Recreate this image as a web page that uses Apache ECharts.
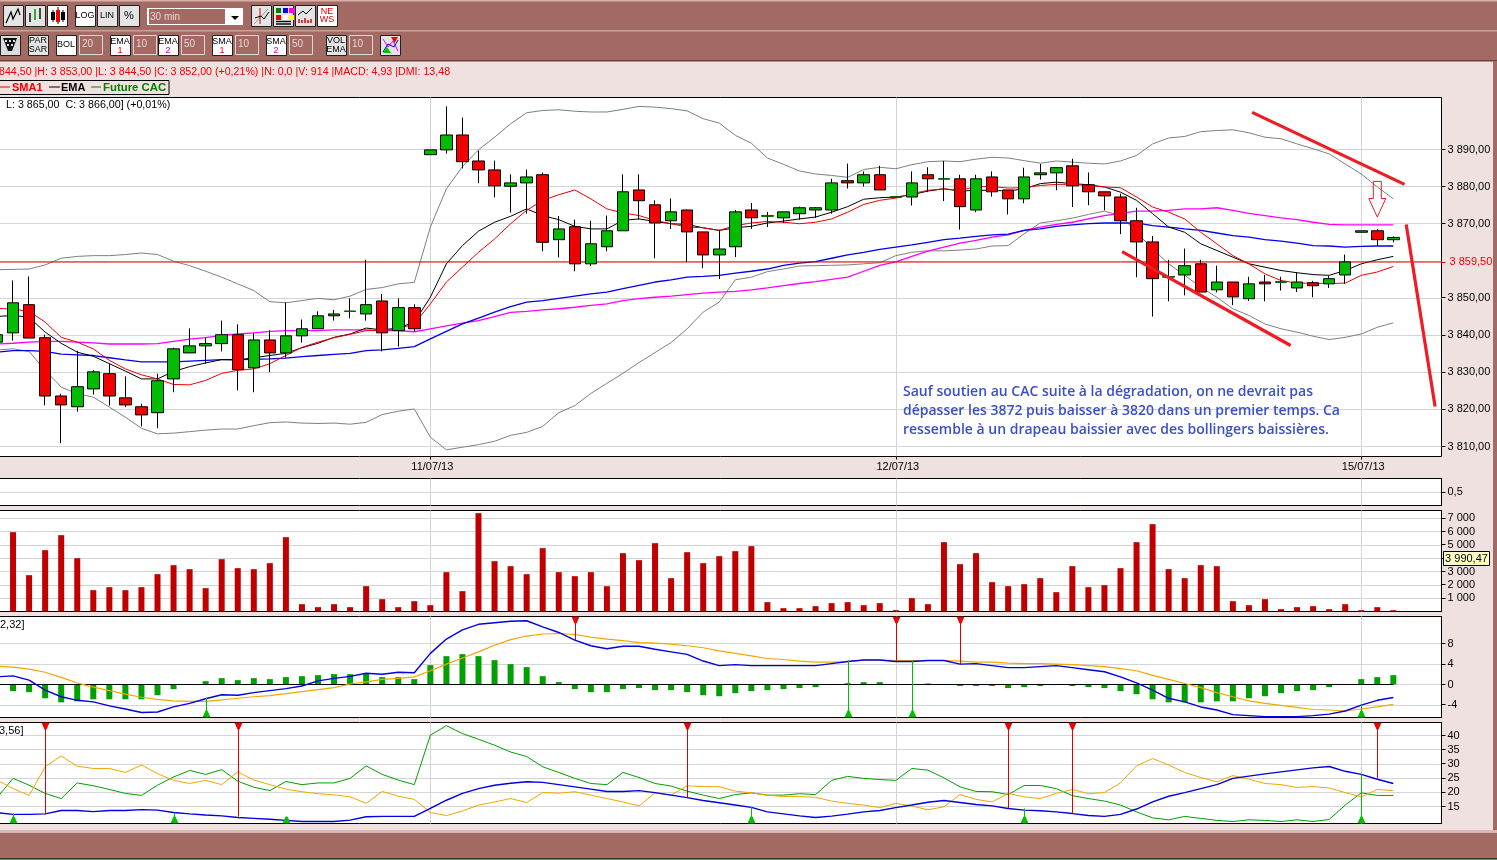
<!DOCTYPE html>
<html><head><meta charset="utf-8">
<style>html,body{margin:0;padding:0;background:#f0e1e1;overflow:hidden}#c{width:1497px;height:860px}</style>
<script src="https://cdn.jsdelivr.net/npm/echarts@6/dist/echarts.min.js"></script>
</head><body><div id="c"></div><script>
const dateTicks = {27:'11/07/13',56:'12/07/13',85:'15/07/13'};
const priceTicks = [3810,3820,3830,3840,3850,3860,3870,3880,3890];
const priceLabels = [3810,3820,3830,3840,3850,3870,3880,3890];
const volTicks = [1000,2000,3000,4000,5000,6000,7000];
const volLabels = [1000,2000,3000,5000,6000,7000];
const macdTicks = [-4,0,4,8];
const dmiTicks = [15,20,25,30,35,40];
const lastPrice = 3859.69;

const open = [3838.1,3840.6,3848.2,3839.3,3823.6,3820.7,3825.5,3829.6,3823.1,3820.7,
3819.1,3828.2,3835.2,3837.1,3837.7,3840.1,3831.2,3838.7,3835.2,3839.8,
3841.7,3845.2,3846.4,3845.7,3849.2,3841.2,3847.4,3888.6,3889.9,3893.9,
3886.9,3884.5,3880.1,3881.0,3883.2,3865.7,3869.2,3859.2,3863.8,3868.1,
3879.1,3875.1,3870.8,3873.7,3867.8,3861.6,3863.8,3873.7,3872.1,3871.6,
3872.7,3873.7,3873.7,3881.6,3881.0,3883.2,3877.2,3877.2,3883.2,3882.1,
3882.1,3873.7,3882.6,3879.1,3876.7,3883.2,3883.7,3885.6,3880.5,3878.6,
3877.2,3870.8,3865.1,3855.7,3856.2,3859.2,3852.2,3854.3,3849.8,3854.3,
3854.3,3852.7,3854.1,3853.8,3856.2,3867.7,3868.1,3865.7];
const close = [3840.1,3848.7,3839.2,3823.6,3821.2,3826.1,3830.1,3823.6,3821.2,3818.5,
3827.7,3836.3,3837.1,3837.7,3840.1,3830.7,3838.7,3835.2,3839.8,3841.7,
3845.2,3845.7,3846.4,3848.2,3840.6,3847.4,3841.7,3889.9,3893.9,3886.7,
3884.5,3880.2,3881.0,3882.6,3865.0,3868.6,3859.2,3864.6,3868.1,3878.6,
3876.2,3870.2,3873.2,3867.8,3861.6,3863.2,3873.2,3871.6,3872.1,3873.2,
3874.3,3874.3,3881.0,3881.0,3883.2,3879.1,3877.2,3881.0,3882.1,3882.1,
3874.6,3882.1,3878.6,3876.7,3882.6,3883.7,3885.1,3880.2,3878.6,3877.5,
3870.8,3865.1,3855.2,3855.7,3858.7,3851.6,3854.3,3850.3,3853.8,3853.8,
3854.3,3854.3,3853.3,3855.2,3859.7,3868.1,3865.7,3866.3];
const low = [3837.0,3838.5,3839.2,3821.1,3810.9,3819.4,3824.0,3821.0,3820.6,3815.4,
3814.9,3824.6,3835.2,3832.3,3835.6,3825.1,3824.6,3830.0,3833.9,3838.0,
3841.7,3843.9,3844.5,3843.9,3835.6,3836.9,3840.9,3888.6,3888.9,3884.9,
3880.9,3877.1,3873.0,3872.7,3862.6,3860.9,3857.2,3858.6,3862.6,3868.1,
3871.1,3860.7,3868.6,3859.7,3858.0,3855.1,3861.0,3868.6,3869.1,3870.2,
3871.1,3871.6,3872.7,3879.5,3880.0,3879.1,3877.0,3874.9,3878.5,3876.1,
3868.4,3873.1,3877.3,3872.5,3875.5,3881.9,3879.0,3874.5,3875.0,3873.6,
3867.2,3855.6,3845.0,3849.1,3850.7,3851.6,3851.5,3848.1,3849.2,3849.1,
3852.0,3851.6,3850.2,3852.7,3853.8,3867.7,3864.0,3865.0];
const high = [3841.0,3854.7,3855.8,3840.1,3824.2,3835.8,3830.6,3832.3,3828.9,3821.5,
3829.6,3836.6,3841.8,3839.3,3843.9,3842.9,3840.6,3841.3,3848.8,3844.2,
3846.4,3846.8,3849.9,3860.3,3851.1,3849.9,3848.3,3889.9,3901.6,3898.6,
3889.7,3887.0,3883.3,3884.6,3883.8,3872.1,3871.1,3870.8,3872.2,3883.3,
3883.3,3876.3,3876.8,3873.8,3867.8,3868.4,3873.7,3875.6,3873.2,3873.2,
3874.6,3874.5,3882.1,3886.2,3884.1,3885.6,3877.4,3884.1,3885.2,3886.9,
3883.2,3883.2,3884.1,3879.1,3885.1,3886.1,3885.1,3887.5,3883.8,3878.6,
3878.1,3874.3,3866.7,3860.3,3863.3,3860.3,3858.7,3854.3,3855.7,3856.2,
3855.7,3856.8,3854.6,3855.9,3861.7,3868.1,3868.6,3866.6];
const bollUpper = [3857.6,3857.7,3857.8,3858.9,3860.7,3861.2,3861.4,3861.4,3861.7,3862.1,
3861.7,3859.9,3858.7,3857.2,3855.6,3853.8,3852.0,3849.0,3848.7,3849.3,
3849.9,3849.5,3850.5,3852.3,3852.8,3853.8,3854.2,3869.1,3879.4,3885.4,
3889.9,3893.3,3896.9,3899.9,3900.5,3900.7,3900.3,3900.1,3900.1,3900.8,
3901.6,3901.4,3901.0,3900.4,3898.3,3897.1,3893.8,3891.7,3887.7,3886.0,
3884.2,3883.4,3883.0,3882.5,3884.6,3885.2,3884.8,3885.9,3886.7,3886.9,
3886.7,3887.4,3887.9,3887.7,3887.0,3886.3,3886.9,3886.6,3886.3,3886.1,
3886.9,3888.4,3891.5,3893.1,3893.5,3894.8,3895.1,3895.3,3894.5,3893.3,
3892.9,3891.5,3890.2,3888.8,3886.1,3883.4,3879.9,3876.7];
const bollLower = [3836.0,3836.3,3835.6,3830.5,3826.0,3824.2,3823.3,3820.6,3817.9,3814.9,
3813.4,3813.6,3814.0,3814.4,3814.7,3814.7,3815.6,3816.4,3816.6,3816.3,
3816.2,3816.3,3816.0,3816.5,3818.6,3819.5,3820.1,3812.5,3809.1,3809.8,
3810.5,3811.4,3813.0,3813.8,3815.4,3819.1,3821.0,3824.3,3827.0,3829.7,
3832.6,3835.3,3838.0,3841.7,3846.2,3848.9,3854.9,3855.6,3857.1,3857.8,
3858.6,3858.7,3858.8,3858.9,3859.2,3859.5,3861.4,3862.3,3862.7,3862.7,
3862.9,3863.2,3864.0,3864.1,3867.3,3870.2,3870.8,3871.5,3872.5,3873.4,
3872.2,3867.7,3863.2,3859.2,3856.1,3852.9,3850.2,3847.1,3845.3,3843.0,
3841.7,3840.8,3839.7,3838.8,3839.4,3840.3,3842.1,3843.3];
const sma1 = [3847.2,3847.0,3846.4,3843.5,3839.4,3838.1,3836.3,3833.2,3830.9,3829.3,
3828.2,3826.7,3826.6,3827.8,3829.7,3830.5,3830.9,3832.3,3834.5,3836.7,
3838.1,3839.3,3840.2,3841.2,3841.2,3841.7,3843.0,3848.4,3854.3,3858.3,
3862.3,3865.9,3870.0,3873.6,3876.3,3877.8,3879.1,3876.7,3874.0,3872.9,
3872.2,3870.9,3870.0,3869.1,3868.9,3868.2,3869.5,3870.2,3870.6,3870.4,
3870.0,3870.4,3871.3,3873.1,3875.2,3876.3,3876.9,3878.1,3879.0,3879.4,
3879.0,3880.0,3880.0,3879.6,3879.7,3880.3,3880.6,3880.6,3880.3,3879.9,
3879.7,3877.2,3874.5,3873.1,3871.3,3867.7,3864.6,3861.4,3859.2,3856.5,
3854.7,3854.0,3854.0,3853.9,3854.0,3856.1,3857.0,3858.5];
const ema1 = [3845.0,3845.3,3844.8,3840.8,3837.8,3835.4,3834.3,3832.3,3830.3,3828.2,
3828.2,3830.2,3831.5,3832.5,3833.4,3833.3,3833.9,3834.5,3835.1,3836.6,
3837.8,3839.4,3840.3,3841.9,3841.4,3841.9,3843.5,3850.2,3859.2,3864.1,
3868.0,3870.4,3872.0,3874.0,3872.2,3871.1,3869.3,3868.6,3868.6,3870.9,
3871.3,3870.6,3870.0,3869.8,3868.9,3868.2,3868.9,3869.3,3870.2,3870.7,
3871.3,3871.8,3873.1,3874.6,3876.6,3877.0,3877.2,3877.8,3878.8,3879.4,
3878.8,3879.0,3879.0,3878.8,3879.4,3880.8,3881.2,3880.8,3880.5,3879.9,
3878.5,3876.3,3872.7,3869.1,3867.7,3864.6,3862.8,3861.0,3859.2,3858.3,
3857.4,3856.8,3856.3,3856.1,3857.4,3859.2,3860.3,3861.2];
const ema2 = [3835.4,3835.8,3835.8,3835.6,3834.9,3834.7,3834.5,3833.9,3833.3,3832.8,
3832.8,3832.8,3833.0,3833.2,3833.4,3833.4,3833.5,3833.6,3833.8,3834.2,
3834.5,3834.8,3835.1,3835.8,3836.0,3836.4,3836.9,3839.0,3841.0,3843.0,
3844.6,3846.2,3847.7,3848.9,3849.3,3849.9,3850.5,3851.1,3851.6,3852.5,
3853.4,3854.3,3854.9,3855.6,3855.8,3856.1,3856.7,3857.2,3857.8,3858.8,
3859.4,3859.8,3860.7,3861.6,3862.3,3863.1,3863.7,3864.3,3865.0,3865.7,
3866.1,3866.6,3867.0,3867.2,3868.2,3868.6,3869.3,3869.7,3870.0,3870.2,
3870.2,3870.2,3869.5,3869.1,3868.6,3868.2,3867.5,3866.8,3866.4,3865.7,
3865.3,3864.8,3864.1,3864.0,3863.7,3863.9,3864.0,3864.0];
const sma2 = [3837.6,3837.8,3838.1,3838.3,3838.3,3838.1,3837.9,3837.6,3837.6,3837.6,
3837.7,3838.3,3838.9,3839.3,3839.9,3840.3,3840.6,3841.0,3841.2,3841.2,
3841.2,3841.4,3841.4,3841.4,3841.2,3841.2,3840.9,3841.7,3842.5,3843.2,
3843.9,3845.0,3846.1,3846.4,3846.8,3847.1,3847.5,3848.0,3848.4,3849.3,
3849.8,3850.2,3850.5,3850.9,3851.3,3851.6,3851.8,3852.2,3852.7,3853.3,
3853.9,3854.4,3855.0,3855.6,3857.2,3858.8,3859.7,3861.2,3862.6,3863.7,
3864.8,3865.5,3866.4,3867.0,3868.2,3869.1,3869.8,3870.4,3871.3,3872.2,
3872.8,3873.4,3873.4,3873.6,3874.0,3874.0,3874.3,3873.6,3872.8,3872.2,
3871.6,3871.1,3870.4,3869.8,3869.7,3869.7,3869.7,3869.7];
const volume = [925,5950,2725,4600,5725,4000,1600,1825,1600,1825,
2800,3475,3175,1750,3925,3250,3175,3625,5575,550,
325,550,325,1900,925,325,775,475,2950,1525,
7375,3775,3400,2800,4750,2950,2650,2950,1900,4375,
3850,5125,2500,4450,3625,4150,4525,4900,700,250,
250,400,625,700,475,625,100,1000,550,5200,
3550,4375,2200,1900,2050,2500,1450,3400,1825,1975,
3250,5200,6550,3175,2500,3475,3400,775,475,925,
175,325,400,175,550,100,325,100];
const macdHist = [-1.9,-1.3,-1.5,-2.7,-3.5,-3.3,-2.9,-2.9,-2.9,-2.9,
-2.1,-0.9,0,0.65,1.24,0.85,1.24,1.05,1.44,1.63,
1.83,2.03,2.03,2.22,1.44,1.44,1.05,3.79,5.56,5.95,
5.56,4.77,3.99,3.4,1.63,0.46,-0.9,-1.5,-1.5,-0.9,
-0.7,-1.1,-1.1,-1.5,-2.1,-2.3,-1.7,-1.3,-1.1,-0.9,
-0.7,-0.5,0,0.26,0.46,0.46,0,0,0.2,0,
-0.3,-0.3,-0.3,-0.7,-0.5,-0.3,0,-0.3,-0.5,-0.7,
-1.3,-1.9,-2.9,-3.5,-3.5,-3.5,-3.3,-3.3,-2.7,-2.3,
-1.7,-1.3,-1.1,-0.5,0,1.05,1.44,1.83];
const macdLine = [1.5,1.7,0.85,-1.1,-2.4,-3.1,-3.4,-4.2,-4.8,-5.5,
-5.4,-4.4,-3.7,-2.8,-2.0,-2.1,-1.6,-1.2,-0.8,-0.3,
0.7,1.2,1.6,2.2,2.0,2.4,2.3,6.1,8.9,10.7,
11.8,12.1,12.4,12.5,11.3,10.2,8.7,7.6,7.0,7.5,
7.5,6.9,6.4,5.9,4.6,3.7,3.9,3.7,3.7,3.7,
3.7,3.7,4.1,4.5,4.8,4.8,4.5,4.5,4.7,4.7,
4.0,4.1,3.7,3.3,3.3,3.5,3.7,3.3,2.9,2.5,
1.5,0.3,-1.1,-2.7,-3.4,-4.4,-5.0,-5.9,-6.1,-6.3,
-6.3,-6.3,-6.1,-5.8,-5.2,-4.05,-3.1,-2.55];
const macdSignal = [3.6,3.4,3.0,2.4,1.4,0.3,-0.5,-1.2,-1.9,-2.5,
-2.9,-3.2,-3.3,-3.3,-3.0,-2.7,-2.4,-2.2,-1.8,-1.4,
-1.0,-0.6,0.1,0.5,1.0,1.2,1.5,2.7,4.0,5.2,
6.4,7.7,8.8,9.5,9.9,10.0,9.8,9.3,8.9,8.6,
8.2,8.1,7.9,7.6,7.2,6.6,6.1,5.6,5.1,4.9,
4.6,4.4,4.4,4.5,4.8,4.8,4.7,4.7,4.7,4.7,
4.6,4.4,4.4,4.2,4.1,4.1,4.0,3.9,3.7,3.5,
3.1,2.7,1.8,1.0,0.2,-0.6,-1.6,-2.4,-3.2,-3.7,
-4.1,-4.5,-4.9,-5.0,-5.2,-4.8,-4.4,-3.9];
const dmiPlus = [18.1,24.9,22.5,19.6,17.8,23.3,22.3,21.0,19.6,18.9,
22.5,25.4,27.7,26.3,28.0,23.9,21.8,20.6,23.8,22.7,
23.3,23.3,24.9,29.3,26.3,24.3,22.7,40.1,43.5,40.7,
38.7,36.6,34.2,32.6,29.0,27.0,24.9,23.1,22.7,27.0,
25.2,23.1,22.2,20.4,19.0,17.8,19.2,19.8,19.0,19.0,
19.5,19.2,24.2,25.6,24.9,24.5,24.2,28.4,27.8,25.1,
21.9,20.3,20.2,19.2,22.4,22.4,21.3,18.8,17.8,16.9,
15.5,13.1,11.0,10.3,11.5,10.8,10.1,9.7,10.3,10.1,
9.7,10.3,9.7,10.4,15.5,19.8,18.9,18.9];
const dmiMinus = [24.3,21.3,18.9,29.0,32.8,29.2,28.4,28.4,27.0,29.6,
26.6,24.2,23.1,24.2,22.7,27.2,24.3,22.7,21.1,20.2,
19.5,19.1,18.4,16.1,20.3,18.6,17.5,12.9,11.8,13.4,
15.5,16.6,17.8,16.4,19.9,19.7,20.2,19.0,17.8,16.6,
15.2,19.8,19.0,22.3,22.0,22.0,20.4,19.8,19.0,18.5,
18.5,18.2,16.9,16.1,15.5,14.6,16.1,15.2,13.8,14.9,
19.2,17.5,16.6,19.6,18.4,17.8,19.6,21.0,19.5,19.9,
23.3,29.3,31.9,29.6,27.0,25.2,23.7,25.9,24.6,23.1,
22.7,21.7,22.0,21.5,19.9,18.4,21.0,20.6];
const adx = [12.8,12.2,12.2,12.4,13.6,13.6,13.2,13.6,13.6,13.9,
13.7,12.9,12.4,12.0,11.7,11.1,10.8,10.5,10.1,9.7,
9.7,9.7,10.2,11.4,11.5,11.5,11.5,14.3,17.2,19.6,
21.3,22.5,23.2,23.7,23.5,22.7,21.9,21.1,20.3,20.3,
20.6,19.9,19.0,18.1,17.1,16.3,15.5,14.7,13.1,12.4,
11.7,11.1,11.6,12.3,13.1,13.6,14.6,15.5,16.5,17.1,
16.4,15.7,15.2,14.3,13.7,13.5,13.1,12.5,11.8,11.5,
12.2,14.1,16.6,18.6,19.9,21.3,22.7,24.9,25.7,26.5,
27.2,27.9,28.6,29.1,27.4,26.3,24.6,23.1];
// signals: [bar index, value the arrow reaches]
const macdSell = [[36,8.7],[56,4.7],[60,4.0]];
const macdBuy = [[13,-2.6],[53,4.7],[57,4.7],[85,-3.9]];
const dmiSell = [[3,12.5],[15,11.4],[43,18.1],[63,14.3],[67,12.5],[86,24.9]];
const dmiBuy = [[1,12.5],[11,12.9],[18,10.1],[47,14.9],[64,14.3],[85,26.3]];
// hand-drawn annotations: [bar, price, bar, price]
const trendLines = [[78.2,3900.0,87.7,3880.6],[70.1,3862.5,80.6,3837.2],[87.8,3869.8,89.6,3820.8]];
const hollowArrow = [86,3881.4,3876.8,3871.8];
const note = ['Sauf soutien au CAC suite à la dégradation, on ne devrait pas',
 'dépasser les 3872 puis baisser à 3820 dans un premier temps. Ca',
 'ressemble à un drapeau baissier avec des bollingers baissières.'];

const BAR_COUNT = 91;
const categories = [];
for (let i = 0; i < BAR_COUNT; i++) categories.push(dateTicks[i] || ('b' + i));
const isDate = i => dateTicks[i] !== undefined;
const FONT = '"Liberation Sans", Arial, sans-serif';
const GRID = '#d4d4d4';
const panels = [[97,359],[478,27],[510,101],[616,101],[722,101]];

const grids = panels.map(p => ({left:-3,width:1444.5,top:p[0]+.5,height:p[1],show:true,backgroundColor:'#fff',
  borderColor:'#000',borderWidth:1,containLabel:false,outerBoundsMode:'none'}));
const xAxes = panels.map((p,i) => ({type:'category',gridIndex:i,data:categories,boundaryGap:false,
  axisLine:{show:false},
  axisTick:{show:i===0,interval:isDate,length:3,lineStyle:{color:'#000'}},
  axisLabel:{show:i===0,interval:isDate,color:'#000',fontFamily:FONT,fontSize:11,margin:5,padding:[0,0,0,4],hideOverlap:false},
  splitLine:{show:true,interval:isDate,lineStyle:{color:GRID,width:1}}}));
xAxes.push({type:'value',gridIndex:0,min:0,max:BAR_COUNT-1,show:false,splitLine:{show:false}});

const yBase = (gridIndex,min,max,ticks,labels,fmt) => ({type:'value',gridIndex,min,max,position:'right',
  axisLine:{show:true,lineStyle:{color:'#000'}},
  axisTick:{show:false,customValues:ticks},
  axisLabel:{show:true,customValues:labels,formatter:fmt,color:'#000',fontFamily:FONT,fontSize:11,margin:6,padding:[3,0,0,0]},
  splitLine:{show:true,lineStyle:{color:GRID,width:1}}});
const thousands = v => String(v).replace(/(\d)(\d{3})$/,'$1 $2');
const yAxes = [
  yBase(0,3807.3,3904.0,priceTicks,priceLabels,v=>thousands(v)+',00'),
  yBase(1,0,1,[0.5],[0.5],()=>'0,5'),
  yBase(2,0,7575,volTicks,volLabels,thousands),
  yBase(3,-6.47,13.33,macdTicks,macdTicks,v=>String(v)),
  yBase(4,9.0,44.6,dmiTicks,dmiTicks,v=>String(v))
];

function line(name,data,color,width,g,z){
  return {name,type:'line',data,xAxisIndex:g,yAxisIndex:g,showSymbol:false,symbol:'none',silent:true,
    lineStyle:{color,width},z:z||2,animation:false};
}
function signalSeries(data,g,up,color,tip){
  return {type:'custom',xAxisIndex:g,yAxisIndex:g,data,silent:true,z:4,clip:true,animation:false,
    encode:{x:0,y:1},
    renderItem(params,api){
      const p = api.coord([api.value(0),api.value(1)]);
      const c = params.coordSys, edge = up ? c.y+c.height : c.y, x = Math.round(p[0])+0.5;
      const dir = up ? -1 : 1;
      return {type:'group',children:[
        {type:'line',shape:{x1:x,y1:edge,x2:x,y2:p[1]},style:{stroke:color,lineWidth:1}},
        {type:'polygon',shape:{points:[[x-4,edge],[x+4,edge],[x+1,edge+dir*7],[x-1,edge+dir*7]]},style:{fill:tip}}
      ]};
    }};
}
// short marks to the right of a panel, at the same values as its labels
function tickSeries(values,g,color){
  return {type:'custom',xAxisIndex:g,yAxisIndex:g,data:values.map(v=>[0,v]),silent:true,z:4,clip:false,animation:false,
    encode:{x:0,y:1},
    renderItem(params,api){
      const p = api.coord([0,api.value(1)]), c = params.coordSys, x = c.x+c.width;
      const y = Math.round(p[1]-.5)+.5;
      return {type:'line',shape:{x1:x,y1:y,x2:x+4,y2:y},style:{stroke:color,lineWidth:1}};
    }};
}

const series = [
  line('BollU',bollUpper,'#808080',1,0),
  line('BollL',bollLower,'#808080',1,0),
  line('SMA2',sma2,'#ff00ff',1.3,0),
  line('EMA2',ema2,'#0000e6',1.3,0),
  line('EMA1',ema1,'#000000',1,0),
  line('SMA1',sma1,'#f00000',1,0),
  {name:'Future CAC',type:'candlestick',xAxisIndex:0,yAxisIndex:0,z:3,silent:true,barWidth:12,animation:false,
   data:open.map((o,i)=>[o,close[i],low[i],high[i]]),
   itemStyle:{color:'#00bb00',color0:'#f00000',borderColor:'#000',borderColor0:'#000',borderColorDoji:'#000',borderWidth:1}},
  Object.assign(line('Last',categories.map(()=>lastPrice),'#e00000',1,0,3),{
   endLabel:{show:true,distance:8,formatter:()=>'3 859,50',color:'#f00000',fontFamily:FONT,fontSize:11}}),
  {name:'Doji',type:'candlestick',xAxisIndex:0,yAxisIndex:0,z:3,silent:true,barWidth:12,animation:false,
   data:open.map((o,i)=>o===close[i]?[o,o,o,o]:['-','-','-','-']),
   itemStyle:{color:'#007000',color0:'#007000',borderColor:'#007000',borderColor0:'#007000',borderColorDoji:'#007000',borderWidth:1}},
  {type:'custom',xAxisIndex:5,yAxisIndex:0,data:trendLines,silent:true,z:6,animation:false,clip:false,
   encode:{x:0,y:1},
   renderItem(params,api){
     const a=api.coord([api.value(0),api.value(1)]),b=api.coord([api.value(2),api.value(3)]);
     return {type:'line',shape:{x1:a[0],y1:a[1],x2:b[0],y2:b[1]},style:{stroke:'#ee1c25',lineWidth:3.2}};
   }},
  {type:'custom',xAxisIndex:5,yAxisIndex:0,data:[hollowArrow],silent:true,z:6,animation:false,clip:false,
   encode:{x:0,y:1},
   renderItem(params,api){
     const t=api.coord([api.value(0),api.value(1)]),m=api.coord([api.value(0),api.value(2)]),e=api.coord([api.value(0),api.value(3)]);
     const x=t[0];
     return {type:'polygon',shape:{points:[[x-4,t[1]],[x+4,t[1]],[x+4,m[1]],[x+8.5,m[1]],[x,e[1]],[x-8.5,m[1]],[x-4,m[1]]]},
       style:{fill:'rgba(255,255,255,0)',stroke:'#ee1c25',lineWidth:1}};
   }},
  {name:'Volume',type:'bar',xAxisIndex:2,yAxisIndex:2,data:volume,barWidth:6,silent:true,itemStyle:{color:'#c00000'},z:2,animation:false},
  {name:'Hist',type:'bar',xAxisIndex:3,yAxisIndex:3,data:macdHist,barWidth:6,silent:true,itemStyle:{color:'#00a000'},z:2,animation:false},
  line('Zero',macdHist.map(()=>0),'#000',1.2,3,3),
  line('Signal',macdSignal,'#f0a800',1.2,3,3),
  line('MACD',macdLine,'#0000e0',1.4,3,3),
  signalSeries(macdSell,3,false,'#e00000','#f00000'),
  signalSeries(macdBuy,3,true,'#00c000','#00c000'),
  line('DMI+',dmiPlus,'#00a000',1,4,3),
  line('DMI-',dmiMinus,'#f0a800',1,4,3),
  line('ADX',adx,'#0000e0',1.4,4,3),
  signalSeries(dmiSell,4,false,'#e00000','#f00000'),
  signalSeries(dmiBuy,4,true,'#00c000','#00c000'),
  tickSeries(priceLabels,0,'#000'),
  tickSeries([lastPrice],0,'#e00000'),
  tickSeries([0.5],1,'#000'),
  tickSeries(volTicks,2,'#000'),
  tickSeries(macdTicks,3,'#000'),
  tickSeries(dmiTicks,4,'#000')
];

// ---- window chrome
const BROWN = '#a26a63', PINK = '#f0e1e1';
const g = [];
const rect = (x,y,w,h,fill,stroke,z) => g.push({type:'rect',silent:true,z:z||0,shape:{x,y,width:w,height:h},style:{fill,stroke:stroke||null,lineWidth:stroke?1:0}});
const txt = (x,y,text,color,size,opt) => g.push({type:'text',silent:true,z:(opt&&opt.z)||10,x,y,style:Object.assign({text,fill:color,fontFamily:FONT,fontSize:size,verticalAlign:'middle',align:'left'},opt||{})});
const poly = (pts,color,w,z) => g.push({type:'polyline',silent:true,z:z||10,shape:{points:pts},style:{stroke:color,lineWidth:w||1,fill:null}});
rect(0,0,1497,61,BROWN);
rect(0,0,1497,1.5,'#d9b0aa');
rect(0,30,1497,1.5,'#c9a09a');
rect(0,60,1497,1.5,'#6e3f3a');
rect(1493,61,4,772,BROWN);
rect(0,830,1497,3,'#d9b8b4');
rect(0,833,1497,25,BROWN);
rect(0,858,1497,1,'#333');
rect(0,859,1497,1,'#a26a63');
const btn = (x,y,w,h,fill) => rect(x+.5,y+.5,w,h,fill,'#222',5);
const label = (cx,cy,t,c,s) => txt(cx,cy,t,c||'#000',s||9,{align:'center'});
// row 1
[[3,'#e4e4e4'],[25,'#e4e4e4'],[47,'#fff'],[75,'#fff'],[97,'#e4e4e4'],[119,'#e4e4e4'],[251,'#e4e4e4'],[273,'#e4e4e4'],[295,'#e4e4e4'],[317,'#fff']].forEach(b=>btn(b[0],5,20,21,b[1]));
poly([[6,23],[11,12],[13,19],[18,9],[20,15]],'#000',1.2);
poly([[30,22],[30,13]],'#000',1.4); poly([[35,20],[35,9]],'#00a000',1.6); poly([[40,19],[40,8]],'#000',1.4);
poly([[53,10],[53,22]],'#000',1); rect(51,12,4,8,'#000',null,11); poly([[58,7],[58,24]],'#000',1); rect(56,10,4,12,'#f00000',null,11); poly([[63,10],[63,22]],'#000',1); rect(61,12,4,8,'#000',null,11);
label(85,16,'LOG'); label(107,16,'LIN'); label(129,16,'%','#000',11);
rect(147,8,96,17,'#fff',null,5); rect(149,9,76,15,BROWN,null,6);
txt(150,17,'30 min','#e6d6d4',10);
g.push({type:'polygon',silent:true,z:10,shape:{points:[[231,16],[239,16],[235,20]]},style:{fill:'#000'}});
poly([[254,24],[268,9]],'#999',1); poly([[260,8],[260,24]],'#e00000',1); poly([[255,18],[261,16],[264,19],[269,12]],'#000',1);
[[276,'#008000'],[283,'#0000e0'],[289,'#ff00ff']].forEach(c=>rect(c[0],8,5,5,c[1],null,11));
rect(276,15,5,5,'#f00000',null,11); rect(283,15,5,5,'#fff',null,11); rect(289,15,5,5,'#ffff00',null,11);
poly([[276,21.5],[291,21.5]],'#000',1.4); poly([[276,24],[291,24]],'#000',1.4);
poly([[298,15],[303,11],[306,14],[312,8]],'#000',1);
poly([[299,23],[299,19]],'#e00000',1.5); poly([[302,23],[302,20]],'#e00000',1.5); poly([[305,23],[305,18]],'#e00000',1.5); poly([[308,23],[308,20]],'#e00000',1.5); poly([[311,23],[311,19]],'#e00000',1.5);
label(327,12,'NE','#e00000',9); label(327,20,'WS','#e00000',9);
// row 2
btn(0,35,20,20,'#dcdcdc');
g.push({type:'polygon',silent:true,z:10,shape:{points:[[3,38],[17,38],[12,51],[8,51]]},style:{fill:'#111'}});
[[6,41],[10,41],[14,41],[8,45],[12,45]].forEach(c=>rect(c[0]-1,c[1]-1,2,2,'#ddd',null,11));
btn(28,35,20,20,'#e4e4e4'); label(38,41,'PAR'); label(38,50,'SAR');
btn(56,35,20,20,'#fff'); label(66,45,'BOL');
const valBox = (x,t)=>{rect(x+.5,35.5,23,19,BROWN,'#d8d8d8',5);txt(x+3,44.5,t,'#e6d6d4',10);};
valBox(79,'20');
[[110,'EMA','1','#e00000',133,'10'],[158,'EMA','2','#c000c0',181,'50'],[212,'SMA','1','#e00000',235,'10'],[266,'SMA','2','#c000c0',289,'50']].forEach(b=>{
  btn(b[0],35,20,20,'#fff'); label(b[0]+10,42,b[1]); label(b[0]+10,51,b[2],b[3]); valBox(b[4],b[5]);
});
btn(326,35,20,20,'#e4e4e4'); label(336,41,'VOL'); label(336,50,'EMA'); valBox(349,'10');
btn(380,35,20,20,'#e4e4e4');
poly([[383,39],[388,47],[393,41],[398,51]],'#ff00ff',1); poly([[383,52],[388,44],[394,47],[398,40]],'#0000e0',1);
g.push({type:'polygon',silent:true,z:11,shape:{points:[[391,37],[398,37],[394.5,43]]},style:{fill:'#f00000'}});
g.push({type:'polygon',silent:true,z:11,shape:{points:[[383,53],[391,53],[387,47]]},style:{fill:'#00c000'}});
// header texts
txt(-1,72.3,'844,50 |H: 3 853,00 |L: 3 844,50 |C: 3 852,00 (+0,21%) |N: 0,0 |V: 914 |MACD: 4,93 |DMI: 13,48','#f00000',10.65);
rect(-2,80.5,171,14,PINK,'#000',5);
poly([[0,87],[10,87]],'#f00000',1); txt(12,87.5,'SMA1','#f00000',11,{fontWeight:'bold'});
poly([[49,87],[60,87]],'#000',1); txt(61,87.5,'EMA','#000',11,{fontWeight:'bold'});
poly([[91,87],[101,87]],'#008000',1); txt(103,87.5,'Future CAC','#008000',11.4,{fontWeight:'bold'});
txt(6,105.3,'L: 3 865,00  C: 3 866,00] (+0,01%)','#000',10.7);
txt(0,624.5,'2,32]','#000',11);
txt(-1,731,'3,56]','#000',11);
// yellow value tag
rect(1443.5,551.5,46,14,'#ffffc8','#000',20);
txt(1466.5,558.8,'3 990,47','#000',11,{align:'center',z:21});
// note
note.forEach((t,i)=>txt(903,392+i*19,t,'#3a4fc8',14,{fontFamily:'"Open Sans", sans-serif',fontWeight:600,z:20}));

const chart = echarts.init(document.getElementById('c'),null,{renderer:'canvas',width:1497,height:860});
chart.setOption({animation:false,backgroundColor:PINK,tooltip:{show:false},legend:{show:false},
  grid:grids,xAxis:xAxes,yAxis:yAxes,series,graphic:{elements:g}});
</script></body></html>
